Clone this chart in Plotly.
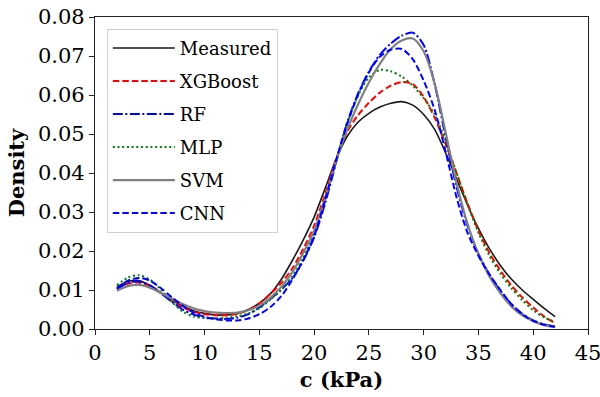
import plotly.graph_objects as go

c_kpa = list(range(2, 43))

measured = [0.0108, 0.0122, 0.0124, 0.0112, 0.0094, 0.0075, 0.0059, 0.0047, 0.0040, 0.0036,
            0.0036, 0.0040, 0.0050, 0.0066, 0.0090, 0.0127, 0.0175, 0.0228, 0.0287, 0.0360,
            0.0435, 0.0493, 0.0530, 0.0553, 0.0569, 0.0579, 0.0583, 0.0574, 0.0550, 0.0512,
            0.0452, 0.0385, 0.0318, 0.0258, 0.0206, 0.0163, 0.0128, 0.0100, 0.0076, 0.0053,
            0.0032]

xgboost = [0.0104, 0.0116, 0.0119, 0.0110, 0.0093, 0.0073, 0.0056, 0.0044, 0.0038, 0.0035,
           0.0035, 0.0039, 0.0049, 0.0066, 0.0090, 0.0118, 0.0155, 0.0205, 0.0265, 0.0345,
           0.0435, 0.0505, 0.0548, 0.0580, 0.0606, 0.0624, 0.0633, 0.0628, 0.0595, 0.0542,
           0.0474, 0.0400, 0.0322, 0.0252, 0.0195, 0.0150, 0.0112, 0.0081, 0.0055, 0.0032,
           0.0015]

rf = [0.0102, 0.0118, 0.0122, 0.0112, 0.0092, 0.0070, 0.0050, 0.0037, 0.0030, 0.0027,
      0.0026, 0.0029, 0.0038, 0.0055, 0.0077, 0.0101, 0.0130, 0.0175, 0.0235, 0.0322,
      0.0426, 0.0528, 0.0603, 0.0660, 0.0703, 0.0732, 0.0752, 0.0760, 0.0728, 0.0628,
      0.0492, 0.0365, 0.0265, 0.0193, 0.0140, 0.0098, 0.0064, 0.0039, 0.0022, 0.0012,
      0.0007]

mlp = [0.0112, 0.0132, 0.0138, 0.0127, 0.0102, 0.0070, 0.0045, 0.0032, 0.0028, 0.0027,
       0.0029, 0.0033, 0.0040, 0.0053, 0.0075, 0.0100, 0.0135, 0.0182, 0.0245, 0.0332,
       0.0430, 0.0525, 0.0598, 0.0645, 0.0664, 0.0661, 0.0647, 0.0624, 0.0592, 0.0550,
       0.0482, 0.0400, 0.0320, 0.0247, 0.0188, 0.0142, 0.0105, 0.0074, 0.0048, 0.0030,
       0.0018]

svm = [0.0098, 0.0110, 0.0113, 0.0106, 0.0093, 0.0078, 0.0064, 0.0053, 0.0046, 0.0042,
       0.0041, 0.0042, 0.0048, 0.0060, 0.0080, 0.0108, 0.0145, 0.0195, 0.0252, 0.0335,
       0.0430, 0.0510, 0.0575, 0.0632, 0.0680, 0.0718, 0.0740, 0.0745, 0.0712, 0.0630,
       0.0505, 0.0375, 0.0270, 0.0192, 0.0135, 0.0092, 0.0058, 0.0035, 0.0020, 0.0010,
       0.0005]

cnn = [0.0104, 0.0124, 0.0131, 0.0124, 0.0105, 0.0082, 0.0060, 0.0042, 0.0031, 0.0025,
       0.0022, 0.0022, 0.0027, 0.0038, 0.0056, 0.0084, 0.0126, 0.0176, 0.0238, 0.0330,
       0.0432, 0.0525, 0.0600, 0.0658, 0.0698, 0.0716, 0.0718, 0.0692, 0.0637, 0.0562,
       0.0455, 0.0338, 0.0247, 0.0188, 0.0140, 0.0100, 0.0064, 0.0038, 0.0021, 0.0011,
       0.0006]

series = [
    ("Measured", measured, "#1a1a1a", "solid", 1.6),
    ("XGBoost", xgboost, "#ff0000", "6.5px,3px", 2),
    ("RF", rf, "#0000ff", "10px,2.5px,2px,2.5px", 2),
    ("MLP", mlp, "#008000", "2px,2.7px", 2),
    ("SVM", svm, "#808080", "solid", 2.2),
    ("CNN", cnn, "#0000ff", "6.5px,3px", 2),
]

fig = go.Figure()
for i, (name, vals, color, dash, w) in enumerate(series):
    fig.add_trace(go.Scatter(
        x=c_kpa, y=vals, name=name, mode="lines",
        line=dict(color=color, dash=dash, width=w, shape="spline", smoothing=0.8),
        legendgroup=f"g{i}",
    ))

ff = "DejaVu Serif"

fig.update_layout(
    width=600, height=397,
    margin=dict(l=95, r=12, t=17, b=68),
    paper_bgcolor="white", plot_bgcolor="white",
    font=dict(family=ff, size=21, color="black"),
    showlegend=True,
    legend=dict(
        x=0.024, y=0.962, xanchor="left", yanchor="top",
        bgcolor="rgba(255,255,255,0.9)", bordercolor="#d0d0d0", borderwidth=1,
        font=dict(family=ff, size=18, color="black"),
        itemwidth=62, tracegroupgap=6.6,
    ),
    xaxis=dict(
        range=[0, 45], tickmode="array", tickvals=list(range(0, 46, 5)),
        showgrid=False, zeroline=False, showline=True, linecolor="#222", linewidth=1.2,
        mirror=True, ticks="outside", ticklen=5, tickcolor="#222",
        tickfont=dict(family=ff, size=21), automargin=False,
        ticklabeloverflow="allow",
        title=dict(text="<b>c (kPa)</b>", font=dict(family=ff, size=21), standoff=8),
    ),
    yaxis=dict(
        range=[0, 0.08], tickmode="array", tickvals=[i / 100 for i in range(0, 9)],
        tickformat=".2f", automargin=False, ticklabeloverflow="allow",
        showgrid=False, zeroline=False, showline=True, linecolor="#222", linewidth=1.2,
        mirror=True, ticks="outside", ticklen=5, tickcolor="#222",
        tickfont=dict(family=ff, size=21),
        title=dict(text="<b>Density</b>", font=dict(family=ff, size=21), standoff=7),
    ),
)

fig.write_html("out.html")
